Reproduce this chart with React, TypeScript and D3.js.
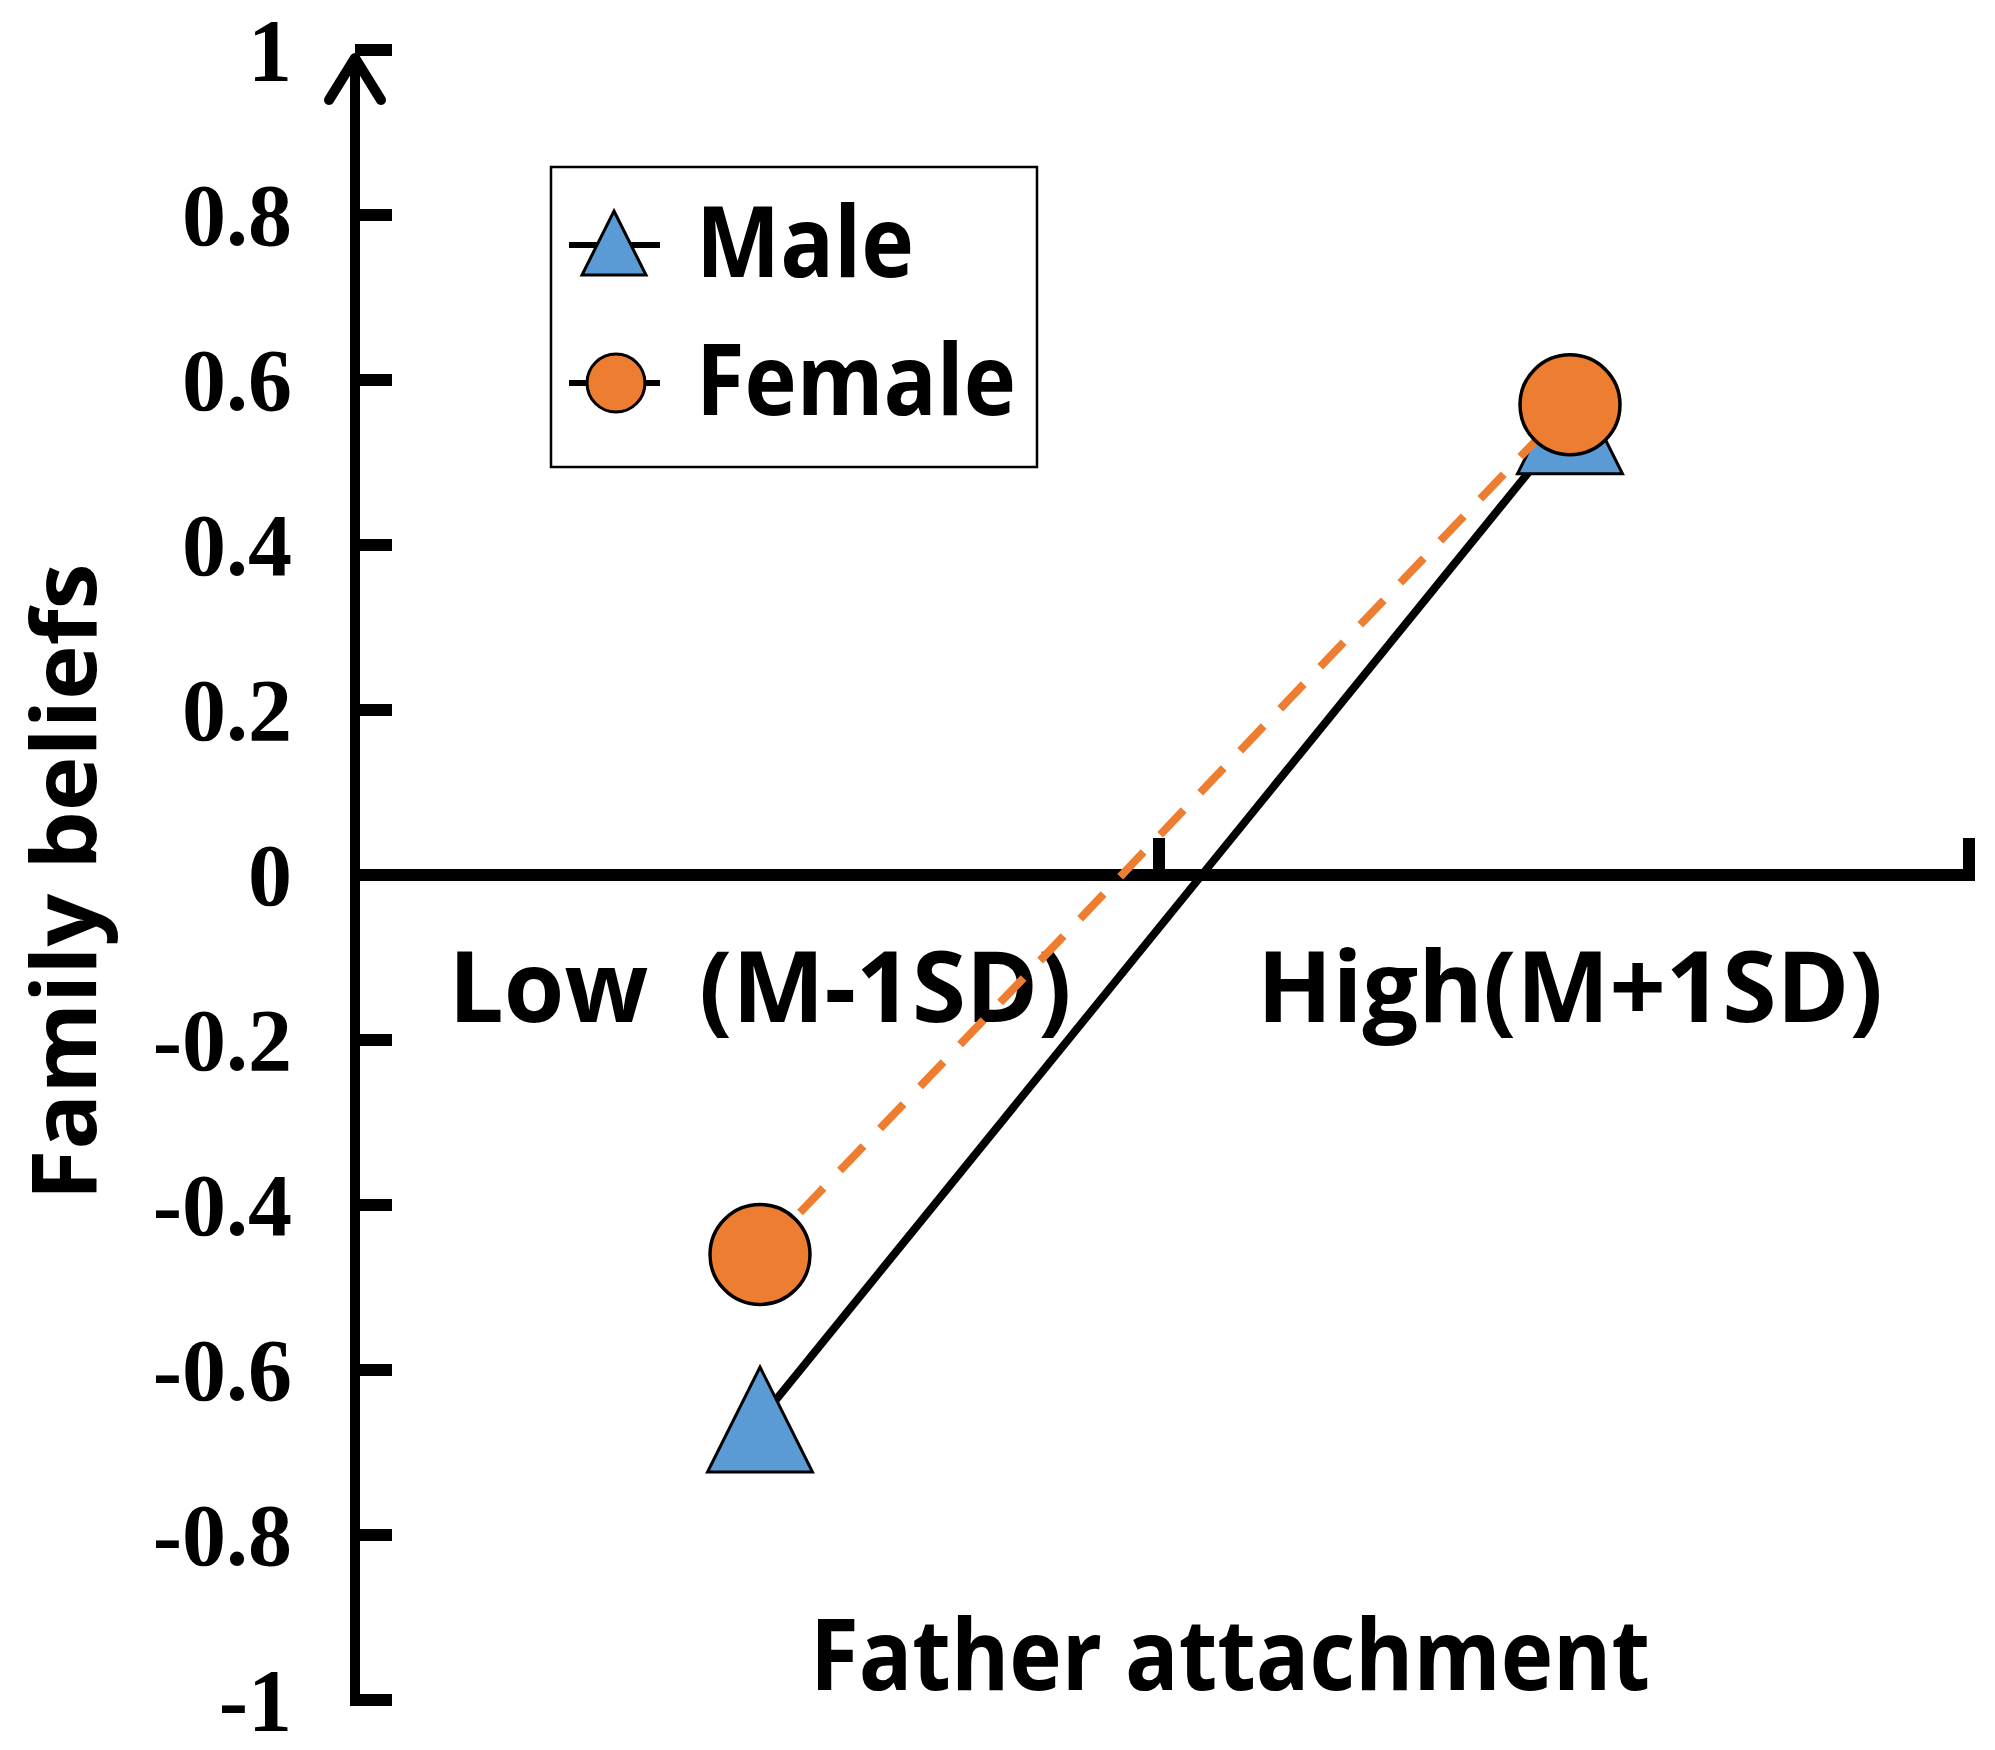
import { useEffect } from "react"
import * as d3 from "d3"

// categories on the x axis (moderator levels)
const categories = ["Low", "High"]
const categoryLabels = ["Low  (M-1SD)", "High(M+1SD)"]

// simple slopes per group
const maleValues = [-0.66, 0.55]
const femaleValues = [-0.46, 0.57]

const yTicks = [1, 0.8, 0.6, 0.4, 0.2, 0, -0.2, -0.4, -0.6, -0.8, -1]
const yTickLabels = ["1", "0.8", "0.6", "0.4", "0.2", "0", "-0.2", "-0.4", "-0.6", "-0.8", "-1"]

const W = 1995
const H = 1750
const BLUE = "#5B9BD5"
const ORANGE = "#ED7D31"
const SANS = "'Open Sans', 'Noto Sans', sans-serif"
const SERIF = "'Liberation Serif', 'Times New Roman', serif"

// reference text is a narrower face; squeeze Open Sans to the measured widths
const categoryWidths = [623, 626]

function trianglePath(cx: number, cy: number, w: number, h: number) {
  return `M${cx},${cy - h / 2}L${cx + w / 2},${cy + h / 2}L${cx - w / 2},${cy + h / 2}Z`
}

export default function App() {
  useEffect(() => {
    document.body.style.margin = "0"
  }, [])

  const x = d3.scaleBand().domain(categories).range([355, 1975]).padding(0)
  const cx = (c: string) => x(c)! + x.bandwidth() / 2
  const y = d3.scaleLinear().domain([-1, 1]).range([1700, 50])

  const line = d3.line<number>()
    .x((_, i) => cx(categories[i]))
    .y(d => y(d))

  const axisX = x.range()[0]
  const y0 = y(0)

  const label = {
    fontFamily: SANS,
    fontWeight: 700,
    fontSize: 98,
    fill: "#000",
    lengthAdjust: "spacingAndGlyphs",
  } as const

  return (
    <svg width={W} height={H} style={{ display: "block", background: "#fff" }}>
      {/* y axis with arrow */}
      <line x1={axisX} x2={axisX} y1={y(1) + 6} y2={y(-1) + 6} stroke="#000" strokeWidth={10} />
      <path
        d={`M${axisX - 26},${y(1) + 50}L${axisX},${y(1) + 8}L${axisX + 26},${y(1) + 50}`}
        fill="none" stroke="#000" strokeWidth={10} strokeLinecap="round" strokeLinejoin="round"
      />
      {yTicks.map((v, i) => (
        <g key={i}>
          <line x1={axisX} x2={axisX + 37} y1={y(v)} y2={y(v)} stroke="#000" strokeWidth={12} />
          <text
            x={292} y={y(v)} dy="0.34em" textAnchor="end"
            fontFamily={SERIF} fontWeight="bold" fontSize={88} fill="#000"
          >{yTickLabels[i]}</text>
        </g>
      ))}

      {/* x axis at zero */}
      <line x1={axisX - 5} x2={x.range()[1]} y1={y0} y2={y0} stroke="#000" strokeWidth={12} />
      {categories.map(c => {
        const bx = x(c)! + x.bandwidth() - 6
        return <line key={c} x1={bx} x2={bx} y1={y0} y2={y0 - 37} stroke="#000" strokeWidth={12} />
      })}
      {categories.map((c, i) => (
        <text key={c} x={cx(c)} y={1022} textAnchor="middle" {...label}
          textLength={categoryWidths[i]} style={{ whiteSpace: "pre" }}>{categoryLabels[i]}</text>
      ))}

      {/* male series */}
      <path d={line(maleValues)!} fill="none" stroke="#000" strokeWidth={8} />
      {maleValues.map((v, i) => (
        <path key={i} d={trianglePath(cx(categories[i]), y(v), 105, 105)} fill={BLUE} stroke="#000" strokeWidth={3} />
      ))}

      {/* female series */}
      <path d={line(femaleValues)!} fill="none" stroke={ORANGE} strokeWidth={8} strokeDasharray="34 24" />
      {femaleValues.map((v, i) => (
        <circle key={i} cx={cx(categories[i])} cy={y(v)} r={50} fill={ORANGE} stroke="#000" strokeWidth={3.5} />
      ))}

      {/* legend */}
      <rect x={551} y={167} width={486} height={300} fill="#fff" stroke="#000" strokeWidth={2.5} />
      <line x1={569} x2={660} y1={245} y2={245} stroke="#000" strokeWidth={6} />
      <path d={trianglePath(614, 243, 64, 64)} fill={BLUE} stroke="#000" strokeWidth={3} />
      <text x={696} y={277} {...label} textLength={218}>Male</text>
      <line x1={569} x2={660} y1={383} y2={383} stroke="#000" strokeWidth={6} />
      <circle cx={616} cy={383} r={29} fill={ORANGE} stroke="#000" strokeWidth={3} />
      <text x={696} y={415} {...label} textLength={320}>Female</text>

      {/* axis titles */}
      <text x={1230} y={1690} textAnchor="middle" {...label} textLength={840}>Father attachment</text>
      <text transform={`translate(96,${882}) rotate(-90)`} textAnchor="middle" {...label}
        fontSize={90} textLength={637}>Family beliefs</text>
    </svg>
  )
}
